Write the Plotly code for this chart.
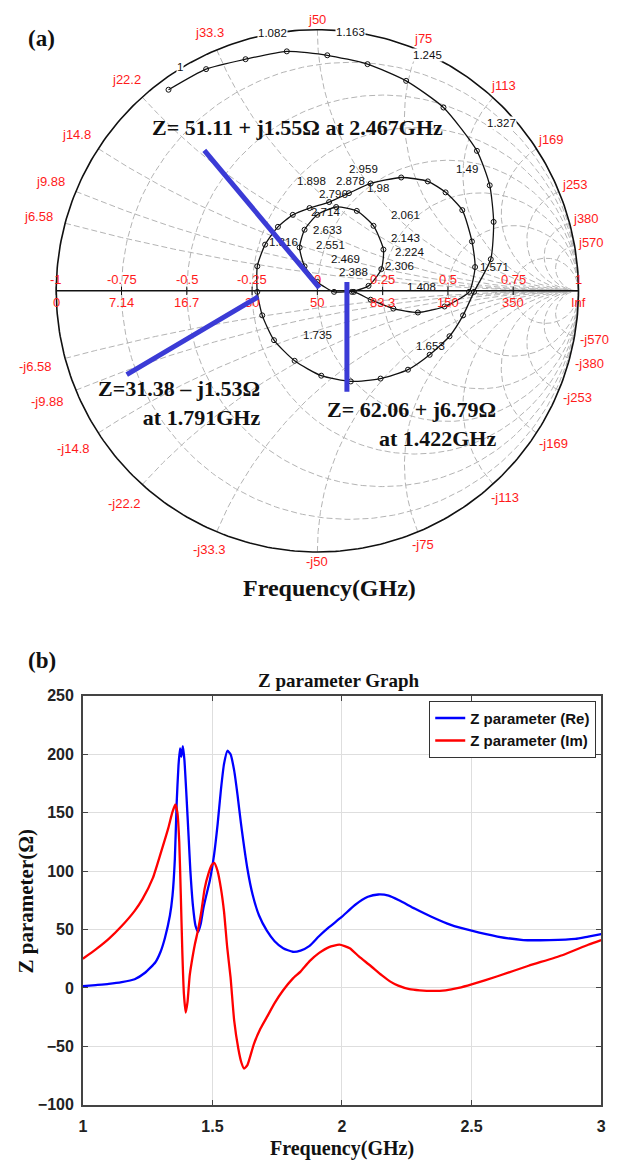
import numpy as np
import plotly.graph_objects as go

# ---------------- Panel (b) data : Z parameter vs frequency ----------------
freq_re = [1.00, 1.05, 1.10, 1.15, 1.20, 1.24, 1.28, 1.30, 1.317, 1.336, 1.346, 1.355, 1.362, 1.369, 1.375,
           1.380, 1.386, 1.392, 1.40, 1.408, 1.415, 1.425, 1.435, 1.445, 1.455, 1.465, 1.475, 1.49, 1.507, 1.52,
           1.533, 1.545, 1.558, 1.57, 1.584, 1.597, 1.61, 1.635, 1.655, 1.68, 1.71, 1.74, 1.773, 1.81, 1.84,
           1.875, 1.91, 1.95, 2.0, 2.05, 2.10, 2.14, 2.18, 2.22, 2.28, 2.345, 2.42, 2.5, 2.6, 2.7,
           2.8, 2.9, 2.95, 3.0]
z_re = [1.5, 2.5, 3.5, 5, 7.5, 13, 22, 31, 43, 62, 79, 110, 158, 190, 205,
        198, 207, 195, 164, 130, 100, 70, 53, 48, 55, 68, 78, 92, 115, 140,
        170, 192, 203, 200, 186, 165, 141, 102, 80, 62, 49, 40, 34, 31, 32,
        36, 44, 52, 61, 71, 78, 80, 79, 75, 68, 61, 54, 49, 44, 41,
        41, 42, 44, 46]

freq_im = [1.00, 1.05, 1.10, 1.15, 1.20, 1.23, 1.27, 1.30, 1.33, 1.345, 1.357, 1.365, 1.372, 1.378, 1.384,
           1.39, 1.397, 1.404, 1.412, 1.42, 1.432, 1.445, 1.457, 1.47, 1.485, 1.497, 1.507, 1.52, 1.533, 1.545,
           1.557, 1.57, 1.584, 1.60, 1.612, 1.622, 1.635, 1.66, 1.685, 1.71, 1.74, 1.773, 1.81, 1.84, 1.875,
           1.912, 1.95, 1.99, 2.03, 2.065, 2.11, 2.153, 2.19, 2.217, 2.26, 2.30, 2.35, 2.40, 2.45, 2.5,
           2.6, 2.72, 2.85, 2.95, 3.0]
z_im = [25, 33, 42, 53, 66, 76, 94, 115, 137, 150, 157, 150, 125, 80, 30,
        -5, -21, -12, 10, 22, 37, 50, 65, 85, 98, 105, 107, 100, 85, 65,
        35, 9, -28, -52, -64, -69, -66, -48, -35, -25, -13, -2, 8, 14, 23,
        30, 35, 37, 34, 27, 19, 11, 5, 2, -1, -2, -2.5, -2, 0, 3,
        10, 19, 28, 37, 41]

x_ticks = [1, 1.5, 2, 2.5, 3]
x_ticktext = ["1", "1.5", "2", "2.5", "3"]
y_ticks = [-100, -50, 0, 50, 100, 150, 200, 250]

# ---------------- Panel (a) data : Smith chart trajectory (reflection coefficient) ----------------
smith_gamma_re = [-0.570, -0.426, -0.275, -0.117, 0.038, 0.192, 0.340, 0.483, 0.611, 0.660, 0.675, 0.664, 0.600,
                  0.558, 0.506, 0.430, 0.347, 0.242, 0.128, 0.015, -0.087, -0.166, -0.211, -0.230, -0.230,
                  -0.200, -0.151, -0.094, -0.030, 0.045, 0.121, 0.204,
                  0.321, 0.423, 0.491, 0.555, 0.592, 0.604, 0.581, 0.487, 0.385, 0.291, 0.204,
                  0.140, 0.064, 0.000, -0.049, -0.068, -0.049, 0.000, 0.072, 0.151, 0.215, 0.253, 0.245,
                  0.196, 0.132]
smith_gamma_im = [0.770, 0.849, 0.887, 0.917, 0.902, 0.868, 0.804, 0.702, 0.536, 0.404, 0.264, 0.121, -0.004,
                  -0.094, -0.174, -0.245, -0.302, -0.336, -0.347, -0.325, -0.268, -0.189, -0.094, -0.004, 0.094,
                  0.177, 0.245, 0.291, 0.317, 0.340, 0.374, 0.411,
                  0.434, 0.419, 0.377, 0.309, 0.189, 0.091, -0.004, -0.060, -0.083, -0.068, -0.034,
                  -0.004, -0.004, 0.034, 0.094, 0.166, 0.234, 0.291, 0.321, 0.306, 0.249, 0.158, 0.083,
                  0.019, -0.004]

freq_labels = ["1", "1.082", "1.163", "1.245", "1.327", "1.408", "1.49", "1.571", "1.653", "1.735",
               "1.816", "1.898", "1.98", "2.061", "2.143", "2.224", "2.306", "2.388", "2.469", "2.551",
               "2.633", "2.714", "2.796", "2.878", "2.959"]

Z0 = 50
reactance_ticks = [6.58, 9.88, 14.8, 22.2, 33.3, 50, 75, 113, 169, 253, 380, 570]
gamma_ticks = [-1, -0.75, -0.5, -0.25, 0, 0.25, 0.5, 0.75, 1]
gamma_ticktext = ["-1", "-0.75", "-0.5", "-0.25", "0", "0.25", "0.5", "0.75", "1"]
resistance_ticktext = ["0", "7.14", "16.7", "30", "50", "83.3", "150", "350", "Inf"]

annot_texts = ["Z= 51.11 + j1.55Ω at 2.467GHz",
               "Z=31.38 – j1.53Ω<br>at 1.791GHz",
               "Z= 62.06 + j6.79Ω<br>at 1.422GHz"]

# ---------------- layout positions (pixel space of the reference) ----------------
W, H = 617, 1168
CX, CY, RAD = 318, 287, 265          # Smith chart centre / radius in px
SM_TOP, SM_BOT = 0, 600

def px2g(px, py):
    return (px - CX) / RAD, (CY - py) / RAD

freq_label_px = [(179, 60), (272, 25), (352, 24), (430, 48), (505, 117), (424, 283), (470, 163), (498, 263),
                 (433, 343), (318, 332), (284, 237), (312, 176), (380, 183), (407, 210), (407, 233),
                 (412, 248), (401, 262), (355, 268), (347, 255), (331, 241), (328, 225), (326, 207),
                 (334, 189), (352, 176), (365, 163)]

SERIF = "Liberation Serif, Times New Roman, serif"
SANS = "Liberation Sans, Arial, sans-serif"

fig = go.Figure()
SM = dict(xaxis="x2", yaxis="y2", showlegend=False, hoverinfo="skip")

# ---- Smith grid (dashed grey) ----
gx, gy = [], []
t = np.linspace(0, 2 * np.pi, 361)
for R in [7.14, 16.7, 30, 50, 83.3, 150, 350]:
    r = R / Z0
    c, rr = r / (1 + r), 1 / (1 + r)
    gx += list(c + rr * np.cos(t)) + [None]
    gy += list(rr * np.sin(t)) + [None]
rs = np.concatenate([[0], np.logspace(-3, 4, 500)])
for X in reactance_ticks:
    for s in (1, -1):
        z = rs + 1j * s * X / Z0
        g = (z - 1) / (z + 1)
        gx += list(g.real) + [None]
        gy += list(g.imag) + [None]
fig.add_trace(go.Scatter(x=gx, y=gy, mode="lines",
                         line=dict(color="#b4b4b4", width=1, dash="6px,3px"), **SM))

# ---- outer boundary and real axis ----
fig.add_trace(go.Scatter(x=np.cos(t), y=np.sin(t), mode="lines",
                         line=dict(color="#111", width=1.6), **SM))
fig.add_trace(go.Scatter(x=[-1, 1], y=[0, 0], mode="lines",
                         line=dict(color="#111", width=1.6), **SM))
fig.add_trace(go.Scatter(x=gamma_ticks, y=[0] * len(gamma_ticks), mode="markers",
                         marker=dict(symbol="line-ns", size=6, line=dict(color="#111", width=1)), **SM))

# ---- trajectory ----
fig.add_trace(go.Scatter(x=smith_gamma_re, y=smith_gamma_im, mode="lines+markers",
                         line=dict(color="#111", width=1.3, shape="spline", smoothing=0.6),
                         marker=dict(symbol="circle-open", size=5, color="#111", line=dict(width=1)),
                         **SM))

annotations = []

# red real-axis labels
for g, a, b in zip(gamma_ticks, gamma_ticktext, resistance_ticktext):
    annotations.append(dict(x=g, y=0, xref="x2", yref="y2", text=a, showarrow=False,
                            yshift=11, font=dict(family=SANS, size=13, color="#ff1a1a")))
    annotations.append(dict(x=g, y=0, xref="x2", yref="y2", text=b, showarrow=False,
                            yshift=-12, font=dict(family=SANS, size=13, color="#ff1a1a")))

# red reactance labels round the rim
for X in reactance_ticks:
    th = np.pi - 2 * np.arctan(X / Z0)
    for s in (1, -1):
        txt = ("j" if s > 0 else "-j") + (f"{X:g}")
        w = 6.8 * len(txt) - 3
        off = 4 + abs(np.cos(th)) * w / 2 + abs(np.sin(th)) * 6 + (8 * abs(np.cos(th)) if np.cos(th) < 0 else 0)
        rl = 1 + off / RAD
        annotations.append(dict(x=rl * np.cos(th), y=s * rl * np.sin(th), xref="x2", yref="y2",
                                text=txt, showarrow=False,
                                font=dict(family=SANS, size=13, color="#ff1a1a")))

# frequency labels
for i, (lab, (px, py)) in enumerate(zip(freq_labels, freq_label_px)):
    gxl, gyl = px2g(px, py)
    annotations.append(dict(x=gxl, y=gyl, xref="x2", yref="y2", text=lab, showarrow=False,
                            bgcolor="white" if i < 5 else "rgba(0,0,0,0)", borderpad=0,
                            font=dict(family=SANS, size=11.5, color="#111")))

# blue pointer lines
BLUE = "#3b3bd6"
for (p0, p1) in [((202, 143), (320, 284)), ((123, 373), (258, 293)), ((348, 391), (348, 278))]:
    a0, b0 = px2g(*p0)
    a1, b1 = px2g(*p1)
    annotations.append(dict(x=a1, y=b1, ax=a0, ay=b0, xref="x2", yref="y2", axref="x2", ayref="y2",
                            text="", showarrow=True, arrowhead=0, arrowwidth=5, arrowcolor=BLUE,
                            standoff=0, startstandoff=0))

zfont = dict(family=SERIF, size=22, color="#111", weight="bold")
a, b = px2g(298, 121)
annotations.append(dict(x=a, y=b, xref="x2", yref="y2", text=annot_texts[0], showarrow=False, font=zfont))
a, b = px2g(262, 401)
annotations.append(dict(x=a, y=b, xref="x2", yref="y2", text=annot_texts[1], showarrow=False,
                        xanchor="right", yanchor="middle", align="right", font=zfont))
a, b = px2g(501, 422)
annotations.append(dict(x=a, y=b, xref="x2", yref="y2", text=annot_texts[2], showarrow=False,
                        xanchor="right", yanchor="middle", align="right", font=zfont))

# panel letters and titles (paper coords)
def paper(px, py):
    return px / W, 1 - py / H

for txt, (px, py), size in [("(a)", (38, 31), 23), ("(b)", (39, 662), 23),
                            ("Frequency(GHz)", (330, 589), 24),
                            ("Z parameter Graph", (340, 682), 19),
                            ("Frequency(GHz)", (343, 1157), 20)]:
    xp, yp = paper(px, py)
    annotations.append(dict(x=xp, y=yp, xref="paper", yref="paper", text=txt, showarrow=False,
                            xanchor="center", yanchor="middle",
                            font=dict(family=SERIF, size=size, color="#111", weight="bold")))
xp, yp = paper(22, 906)
annotations.append(dict(x=xp, y=yp, xref="paper", yref="paper", text="Z parameter(Ω)", showarrow=False,
                        xanchor="center", yanchor="middle",
                        textangle=-90, font=dict(family=SERIF, size=21, color="#111", weight="bold")))

# ---------------- Panel (b) traces ----------------
fig.add_trace(go.Scatter(x=freq_re, y=z_re, mode="lines", name="Z parameter (Re)",
                         line=dict(color="#0000ff", width=2.3, shape="spline", smoothing=0.5)))
fig.add_trace(go.Scatter(x=freq_im, y=z_im, mode="lines", name="Z parameter (Im)",
                         line=dict(color="#ff0000", width=2.3, shape="spline", smoothing=0.5)))

ax_common = dict(showline=True, mirror="ticks", linecolor="#444", linewidth=1.5, ticks="inside",
                 ticklen=5, tickcolor="#444", showgrid=True, gridcolor="#dedede", gridwidth=1,
                 zeroline=False, tickfont=dict(family=SANS, size=16, color="#222", weight="bold"))

sx0, sx1 = -CX / RAD, (W - CX) / RAD
sy1, sy0 = CY / RAD, (CY - SM_BOT) / RAD

fig.update_layout(
    width=W, height=H, margin=dict(l=0, r=0, t=0, b=0),
    paper_bgcolor="white", plot_bgcolor="white",
    xaxis=dict(domain=[80 / W, 606 / W], range=[1, 3], tickvals=x_ticks, ticktext=x_ticktext,
               anchor="y", ticklabelstandoff=6, **ax_common),
    yaxis=dict(domain=[1 - 1113 / H, 1 - 698 / H], range=[-100, 250], tickvals=y_ticks,
               anchor="x", ticklabelstandoff=4, **ax_common),
    xaxis2=dict(domain=[0, 1], range=[sx0, sx1], visible=False, anchor="y2", fixedrange=True),
    yaxis2=dict(domain=[1 - SM_BOT / H, 1], range=[sy0, sy1], visible=False, anchor="x2", fixedrange=True),
    legend=dict(x=601 / W, y=1 - 703 / H, xanchor="right", yanchor="top", bgcolor="white",
                bordercolor="#333", borderwidth=1,
                font=dict(family=SANS, size=15, color="#111", weight="bold"),
                tracegroupgap=0),
    annotations=annotations,
    showlegend=True,
)

fig.write_html("out.html")
